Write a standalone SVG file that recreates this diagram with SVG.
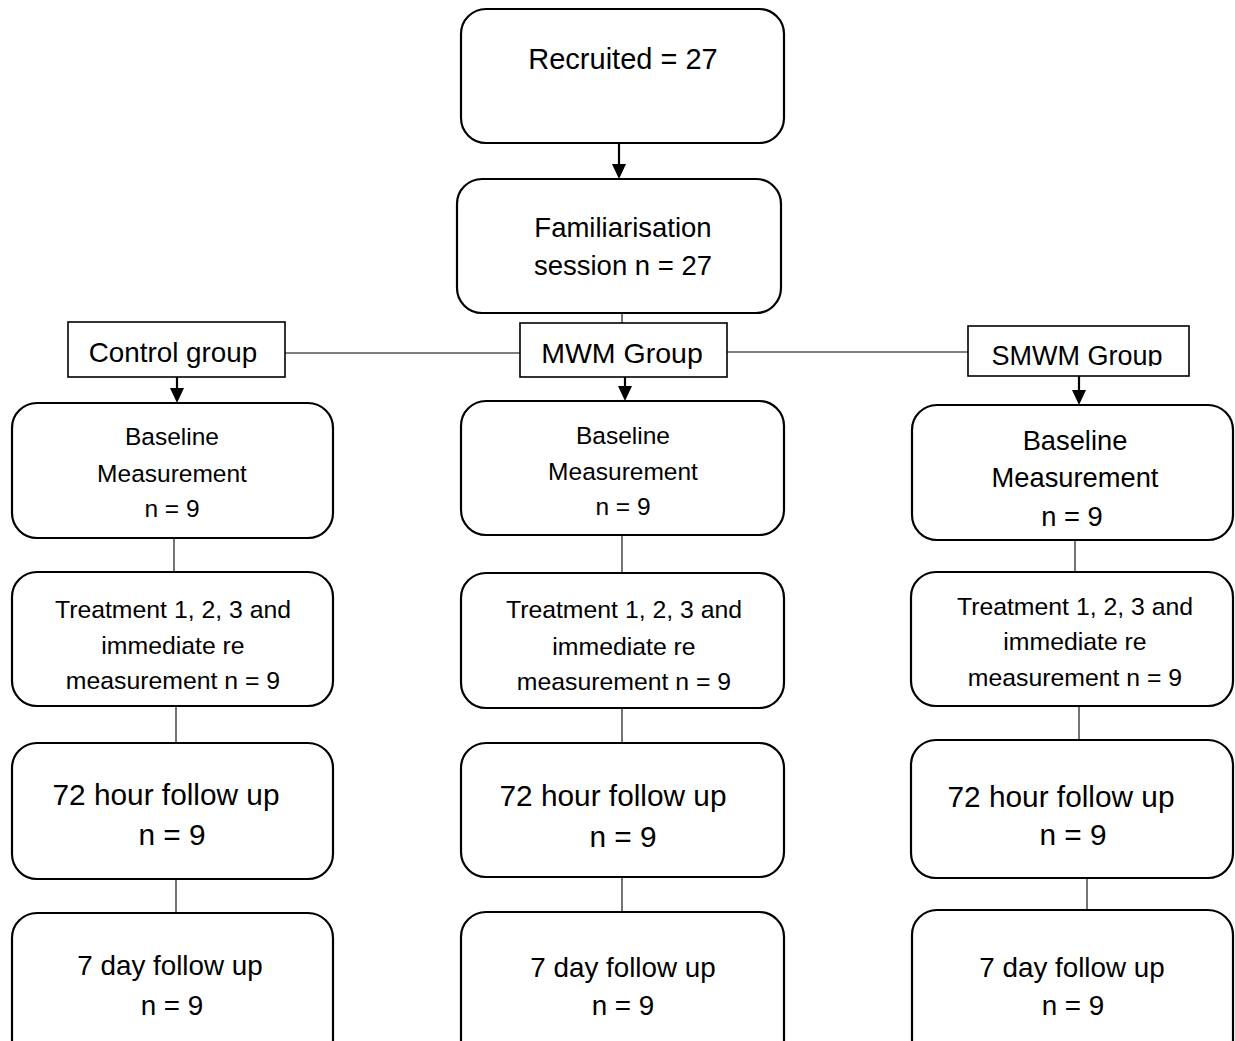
<svg xmlns="http://www.w3.org/2000/svg" width="1235" height="1041" viewBox="0 0 1235 1041">
<style>
  .box{fill:#fff;stroke:#000;stroke-width:2.2}
  .sq{fill:#fff;stroke:#000;stroke-width:1.6}
  .ln{stroke:#000;stroke-width:1.1;fill:none}
  .ar{stroke:#000;stroke-width:2.2;fill:none}
  .head{fill:#000}
  text{font-family:"Liberation Sans",Arial,sans-serif;fill:#000;text-anchor:middle}
  .rec{font-size:29px}
  .fam{font-size:27.5px}
  .grp{font-size:27.8px}
  .mwm{font-size:28.5px}
  .smg{font-size:27px}
  .bl{font-size:24.5px}
  .blr{font-size:27.3px}
  .tr{font-size:24.8px}
  .h72{font-size:29.8px}
  .d7{font-size:27.8px}
</style>
<defs>
  <clipPath id="clipS"><rect x="968" y="326" width="221" height="40"/></clipPath>
</defs>
<rect width="1235" height="1041" fill="#fff"/>

<g id="connectors">
  <line class="ar" x1="619" y1="143" x2="619" y2="164"/>
  <polygon class="head" points="612,164 626,164 619,179"/>
  <line class="ln" x1="622" y1="313" x2="622" y2="323"/>
  <line class="ln" x1="285" y1="353" x2="520" y2="353"/>
  <line class="ln" x1="727" y1="352" x2="968" y2="352"/>
  <line class="ar" x1="177" y1="377" x2="177" y2="389"/>
  <polygon class="head" points="170,388 184,388 177,403"/>
  <line class="ar" x1="625" y1="377" x2="625" y2="387"/>
  <polygon class="head" points="618,386 632,386 625,401"/>
  <line class="ar" x1="1079" y1="376" x2="1079" y2="391"/>
  <polygon class="head" points="1072,390 1086,390 1079,405"/>
  <line class="ln" x1="174" y1="538" x2="174" y2="572"/>
  <line class="ln" x1="176" y1="706" x2="176" y2="743"/>
  <line class="ln" x1="176" y1="879" x2="176" y2="913"/>
  <line class="ln" x1="622" y1="535" x2="622" y2="573"/>
  <line class="ln" x1="622" y1="708" x2="622" y2="743"/>
  <line class="ln" x1="622" y1="877" x2="622" y2="912"/>
  <line class="ln" x1="1075" y1="540" x2="1075" y2="572"/>
  <line class="ln" x1="1079" y1="706" x2="1079" y2="740"/>
  <line class="ln" x1="1087" y1="878" x2="1087" y2="910"/>
</g>

<g id="recruited">
  <rect class="box" x="461" y="9" width="323" height="134" rx="25"/>
  <text class="rec" x="623" y="69">Recruited = 27</text>
</g>
<g id="familiarisation">
  <rect class="box" x="457" y="179" width="324" height="134" rx="25"/>
  <text class="fam" x="623" y="237">Familiarisation</text>
  <text class="fam" x="623" y="275">session n = 27</text>
</g>

<g id="control-group">
  <rect class="sq" x="68" y="322" width="217" height="55"/>
  <text class="grp" x="173" y="362">Control group</text>
</g>
<g id="mwm-group">
  <rect class="sq" x="520" y="323" width="207" height="54"/>
  <text class="mwm" x="622" y="363">MWM Group</text>
</g>
<g id="smwm-group">
  <rect class="sq" x="968" y="326" width="221" height="50"/>
  <text class="smg" x="1077" y="365" clip-path="url(#clipS)">SMWM Group</text>
</g>

<g id="control-baseline">
  <rect class="box" x="12" y="403" width="321" height="135" rx="25"/>
  <text class="bl" x="172" y="445">Baseline</text>
  <text class="bl" x="172" y="482">Measurement</text>
  <text class="bl" x="172" y="517">n = 9</text>
</g>
<g id="control-treatment">
  <rect class="box" x="12" y="572" width="321" height="134" rx="25"/>
  <text class="tr" x="173" y="618">Treatment 1, 2, 3 and</text>
  <text class="tr" x="173" y="654">immediate re</text>
  <text class="tr" x="173" y="689">measurement n = 9</text>
</g>
<g id="control-72h">
  <rect class="box" x="12" y="743" width="321" height="136" rx="25"/>
  <text class="h72" x="166" y="805">72 hour follow up</text>
  <text class="h72" x="172" y="845">n = 9</text>
</g>
<g id="control-7d">
  <rect class="box" x="12" y="913" width="321" height="160" rx="25"/>
  <text class="d7" x="170" y="975">7 day follow up</text>
  <text class="d7" x="172" y="1015">n = 9</text>
</g>

<g id="mwm-baseline">
  <rect class="box" x="461" y="401" width="323" height="134" rx="25"/>
  <text class="bl" x="623" y="444">Baseline</text>
  <text class="bl" x="623" y="480">Measurement</text>
  <text class="bl" x="623" y="515">n = 9</text>
</g>
<g id="mwm-treatment">
  <rect class="box" x="461" y="573" width="323" height="135" rx="25"/>
  <text class="tr" x="624" y="618">Treatment 1, 2, 3 and</text>
  <text class="tr" x="624" y="655">immediate re</text>
  <text class="tr" x="624" y="690">measurement n = 9</text>
</g>
<g id="mwm-72h">
  <rect class="box" x="461" y="743" width="323" height="134" rx="25"/>
  <text class="h72" x="613" y="806">72 hour follow up</text>
  <text class="h72" x="623" y="847">n = 9</text>
</g>
<g id="mwm-7d">
  <rect class="box" x="461" y="912" width="323" height="160" rx="25"/>
  <text class="d7" x="623" y="977">7 day follow up</text>
  <text class="d7" x="623" y="1015">n = 9</text>
</g>

<g id="smwm-baseline">
  <rect class="box" x="912" y="405" width="321" height="135" rx="25"/>
  <text class="blr" x="1075" y="450">Baseline</text>
  <text class="blr" x="1075" y="487">Measurement</text>
  <text class="blr" x="1072" y="526">n = 9</text>
</g>
<g id="smwm-treatment">
  <rect class="box" x="911" y="572" width="322" height="134" rx="25"/>
  <text class="tr" x="1075" y="615">Treatment 1, 2, 3 and</text>
  <text class="tr" x="1075" y="650">immediate re</text>
  <text class="tr" x="1075" y="686">measurement n = 9</text>
</g>
<g id="smwm-72h">
  <rect class="box" x="911" y="740" width="322" height="138" rx="25"/>
  <text class="h72" x="1061" y="807">72 hour follow up</text>
  <text class="h72" x="1073" y="845">n = 9</text>
</g>
<g id="smwm-7d">
  <rect class="box" x="912" y="910" width="321" height="160" rx="25"/>
  <text class="d7" x="1072" y="977">7 day follow up</text>
  <text class="d7" x="1073" y="1015">n = 9</text>
</g>
</svg>
